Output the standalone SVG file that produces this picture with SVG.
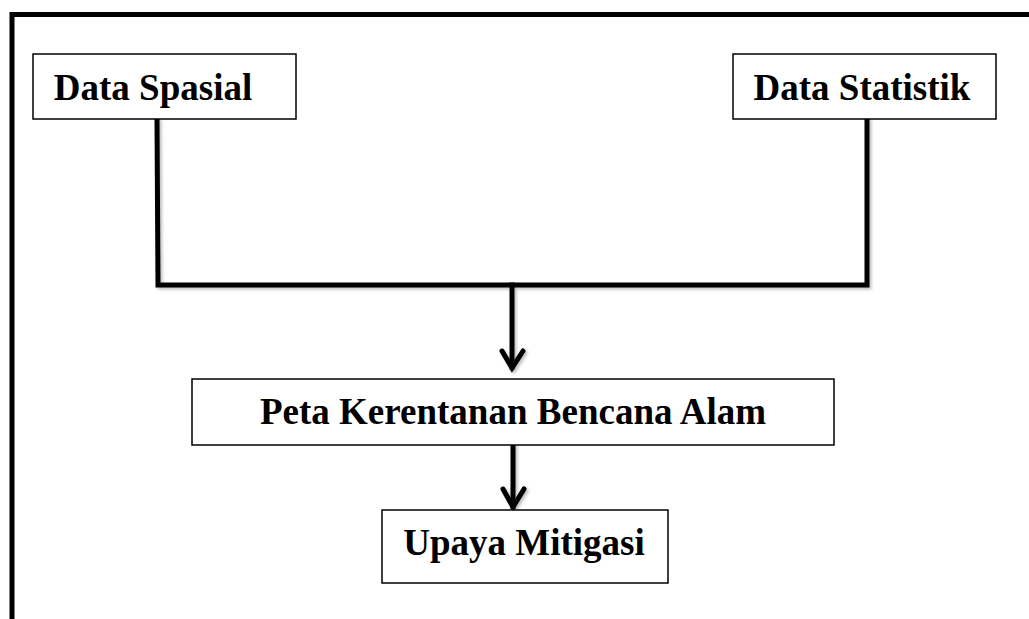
<svg xmlns="http://www.w3.org/2000/svg" width="1029" height="619" viewBox="0 0 1029 619">
  <defs>
    <style>
      .box { fill: #ffffff; stroke: #000000; stroke-width: 1.5; }
      .lbl { font-family: "Liberation Serif", "Times New Roman", serif; font-weight: bold; fill: #000000; text-anchor: middle; font-size: 37px; }
      .conn { fill: none; stroke: #000000; stroke-width: 5; stroke-linecap: square; stroke-linejoin: miter; }
      .head { fill: none; stroke: #000000; stroke-width: 5; stroke-linecap: round; stroke-linejoin: miter; }
    </style>
    <filter id="sh" x="-10%" y="-10%" width="130%" height="130%">
      <feDropShadow dx="2" dy="2" stdDeviation="1.5" flood-color="#000000" flood-opacity="0.25"/>
    </filter>
  </defs>
  <rect width="1029" height="619" fill="#ffffff"/>
  <g id="frame">
    <path d="M12 625 L12 14.5 L1035 14.5" fill="none" stroke="#000000" stroke-width="5"/>
  </g>
  <g id="connectors" filter="url(#sh)">
    <path class="conn" d="M157 120 L158 285 L867 285 L867 120"/>
    <path class="conn" d="M512 285 L512 367"/>
    <path class="head" d="M502 351 L512 368 L523 351"/>
    <path class="conn" d="M513 446 L513 507"/>
    <path class="head" d="M503 489 L513 507 L524 489"/>
  </g>
  <g id="node-data-spasial">
    <rect class="box" x="33" y="54" width="263" height="65"/>
    <text class="lbl" x="153" y="100">Data Spasial</text>
  </g>
  <g id="node-data-statistik">
    <rect class="box" x="733" y="54" width="263" height="65"/>
    <text class="lbl" x="862" y="100">Data Statistik</text>
  </g>
  <g id="node-peta">
    <rect class="box" x="192" y="379" width="642" height="66"/>
    <text class="lbl" x="513" y="424">Peta Kerentanan Bencana Alam</text>
  </g>
  <g id="node-upaya">
    <rect class="box" x="382" y="510" width="286" height="73"/>
    <text class="lbl" x="524" y="555">Upaya Mitigasi</text>
  </g>
</svg>
